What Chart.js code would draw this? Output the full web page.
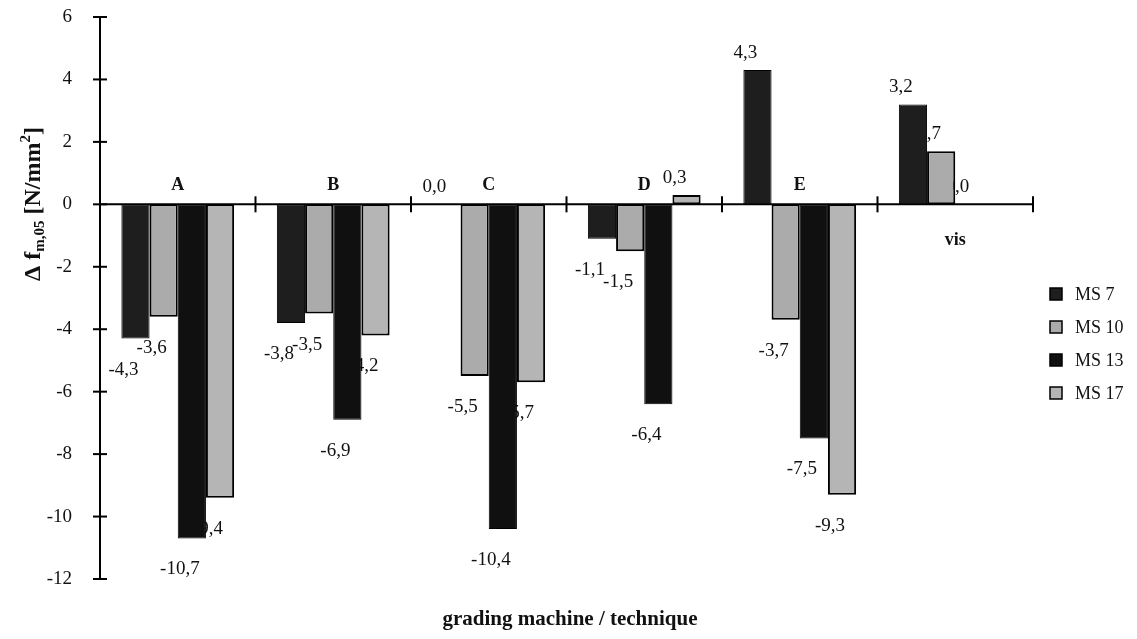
<!DOCTYPE html>
<html>
<head>
<meta charset="utf-8">
<script src="https://cdn.jsdelivr.net/npm/chart.js@4/dist/chart.umd.min.js"></script>
<style>
  html, body { margin: 0; padding: 0; background: #ffffff; }
  #wrap { width: 1137px; height: 639px; position: relative; }
</style>
</head>
<body>
<div id="wrap"><canvas id="c" width="1137" height="639"></canvas></div>
<script>
// ---- data ----
const categories = ['A', 'B', 'C', 'D', 'E', 'vis'];
const seriesNames = ['MS 7', 'MS 10', 'MS 13', 'MS 17'];
const ms7  = [-4.3, -3.8,   0.0, -1.1,  4.3, 3.2];
const ms10 = [-3.6, -3.5,  -5.5, -1.5, -3.7, 1.7];
const ms13 = [-10.7, -6.9, -10.4, -6.4, -7.5, 0.0];
const ms17 = [-9.4, -4.2,  -5.7,  0.3, -9.3, null];
const yTickValues = [-12, -10, -8, -6, -4, -2, 0, 2, 4, 6];

// ---- styles ----
const fillColors   = ['#1e1e1e', '#ababab', '#101010', '#b5b5b5'];
const borderWidths = [1, 2, 1, 2];
const FONT = '"Liberation Serif", "Times New Roman", serif';

const seriesValues = [ms7, ms10, ms13, ms17];

function fmt(v) { return v.toFixed(1).replace('.', ','); }

const axesPlugin = {
  id: 'axesPlugin',
  beforeDatasetsDraw(chart) {
    // data labels (drawn before bars so later bars may cover them, as in the reference)
    const ctx = chart.ctx;
    ctx.save();
    ctx.font = '19px ' + FONT;
    ctx.fillStyle = '#111';
    ctx.textAlign = 'center';
    ctx.textBaseline = 'middle';
    chart.data.datasets.forEach((ds, di) => {
      const meta = chart.getDatasetMeta(di);
      meta.data.forEach((el, i) => {
        const v = ds.data[i];
        if (v === null || v === undefined) return;
        const tx = el.x - 12;
        const ty = v < 0 ? el.y + 31 : el.y - 17;
        ctx.fillText(fmt(v), tx, ty);
      });
    });
    ctx.restore();
  },
  afterDatasetsDraw(chart) {
    const ctx = chart.ctx;
    const xs = chart.scales.x, ys = chart.scales.y;
    const area = chart.chartArea;
    const y0 = ys.getPixelForValue(0);
    ctx.save();
    ctx.strokeStyle = '#000';
    ctx.lineWidth = 2;
    // y axis line
    ctx.beginPath();
    ctx.moveTo(area.left, ys.getPixelForValue(6));
    ctx.lineTo(area.left, ys.getPixelForValue(-12));
    ctx.stroke();
    // y ticks (crossing)
    yTickValues.forEach(t => {
      const py = ys.getPixelForValue(t);
      ctx.beginPath();
      ctx.moveTo(area.left - 7, py);
      ctx.lineTo(area.left + 7, py);
      ctx.stroke();
    });
    // x axis line at zero
    ctx.beginPath();
    ctx.moveTo(area.left, y0);
    ctx.lineTo(area.right, y0);
    ctx.stroke();
    // category boundary ticks
    for (let i = 1; i <= categories.length; i++) {
      let bx;
      if (i === categories.length) bx = area.right;
      else bx = (xs.getPixelForValue(i - 1) + xs.getPixelForValue(i)) / 2;
      ctx.beginPath();
      ctx.moveTo(bx, y0 - 8);
      ctx.lineTo(bx, y0 + 8);
      ctx.stroke();
    }
    // category labels: above the axis when the group has negative bars, below otherwise
    ctx.font = 'bold 18px ' + FONT;
    ctx.fillStyle = '#111';
    ctx.textAlign = 'center';
    ctx.textBaseline = 'middle';
    categories.forEach((c, i) => {
      const hasNeg = seriesValues.some(s => s[i] !== null && s[i] < 0);
      const px = xs.getPixelForValue(i);
      const py = hasNeg ? y0 - 19 : y0 + 36;
      ctx.fillText(c, px, py);
    });
    ctx.restore();
  },
  afterDraw(chart) {
    const ctx = chart.ctx;
    ctx.save();
    ctx.fillStyle = '#111';
    // x axis title
    ctx.font = 'bold 21px ' + FONT;
    ctx.textAlign = 'center';
    ctx.textBaseline = 'middle';
    ctx.fillText('grading machine / technique', 570, 620);

    // y axis title with sub/superscript
    const parts = [
      { t: '\u0394 f', f: 'bold 24px ' + FONT, dy: 0 },
      { t: 'm,05', f: 'bold 15px ' + FONT, dy: 4 },
      { t: ' [N/mm', f: 'bold 24px ' + FONT, dy: 0 },
      { t: '2', f: 'bold 15px ' + FONT, dy: -10 },
      { t: ']', f: 'bold 24px ' + FONT, dy: 0 }
    ];
    let total = 0;
    parts.forEach(p => { ctx.font = p.f; p.w = ctx.measureText(p.t).width; total += p.w; });
    ctx.translate(33, 204);
    ctx.rotate(-Math.PI / 2);
    ctx.textAlign = 'left';
    ctx.textBaseline = 'alphabetic';
    let x = -total / 2;
    parts.forEach(p => { ctx.font = p.f; ctx.fillText(p.t, x, 7 + p.dy); x += p.w; });
    ctx.restore();

    // legend
    ctx.save();
    ctx.font = '18px ' + FONT;
    ctx.textAlign = 'left';
    ctx.textBaseline = 'middle';
    chart.data.datasets.forEach((ds, i) => {
      const ry = 294 + i * 33;
      ctx.fillStyle = ds.backgroundColor;
      ctx.fillRect(1050, ry - 6, 12, 12);
      ctx.strokeStyle = '#000';
      ctx.lineWidth = 1.5;
      ctx.strokeRect(1050, ry - 6, 12, 12);
      ctx.fillStyle = '#111';
      ctx.fillText(ds.label, 1075, ry + 1);
    });
    ctx.restore();
  }
};

const datasets = seriesNames.map((name, i) => ({
  label: name,
  data: seriesValues[i],
  backgroundColor: fillColors[i],
  borderColor: '#000',
  borderWidth: borderWidths[i],
  borderSkipped: false,
  categoryPercentage: 0.725,
  barPercentage: 1.0
}));

new Chart(document.getElementById('c'), {
  type: 'bar',
  data: { labels: categories, datasets },
  options: {
    responsive: false,
    animation: false,
    events: [],
    layout: { padding: { left: 0, right: 104, top: 17, bottom: 60 } },
    plugins: { legend: { display: false }, tooltip: { enabled: false }, title: { display: false } },
    scales: {
      x: { type: 'category', display: false, offset: true },
      y: {
        min: -12, max: 6,
        afterFit(scale) {
          scale.width = 100;
          scale.paddingTop = 0;
          scale.paddingBottom = 0;
        },
        afterBuildTicks(scale) { scale.ticks = yTickValues.map(v => ({ value: v })); },
        grid: { display: false },
        border: { display: false },
        ticks: {
          padding: 20,
          color: '#111',
          font: { family: FONT, size: 19 },
          callback: v => String(v)
        }
      }
    }
  },
  plugins: [axesPlugin]
});
</script>
</body>
</html>
